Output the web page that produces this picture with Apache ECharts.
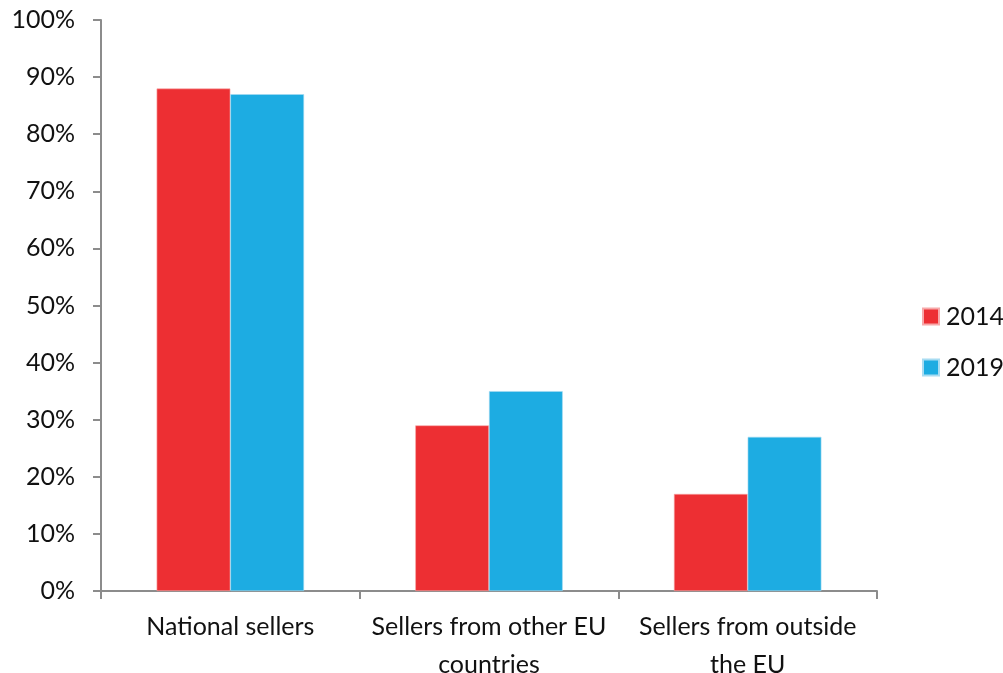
<!DOCTYPE html>
<html>
<head>
<meta charset="utf-8">
<script src="https://cdn.jsdelivr.net/npm/echarts@6/dist/echarts.min.js"></script>
<style>
  html, body { margin: 0; padding: 0; background: #ffffff; }
  #chart { width: 1003px; height: 673px; }
</style>
</head>
<body>
<div id="chart"></div>
<script>
// Share of online shoppers buying from each seller type
const categories = ['National sellers', 'Sellers from other EU\ncountries', 'Sellers from outside\nthe EU'];
const years = ['2014', '2019'];
const values2014 = [88, 29, 17];
const values2019 = [87, 35, 27];
const colors = ['#ED2F33', '#1DACE2'];

const fontFamily = 'Lato, "Open Sans", sans-serif';
const axisGray = '#8c8c8c';
const textColor = '#111111';

const chart = echarts.init(document.getElementById('chart'), null, { renderer: 'canvas' });

chart.setOption({
  animation: false,
  color: colors,
  textStyle: { fontFamily: fontFamily },
  grid: {
    left: 101, right: 126, top: 20, bottom: 82,
    containLabel: false,
    outerBoundsMode: 'none'
  },
  legend: {
    orient: 'vertical',
    left: 922,
    top: 304,
    padding: 0,
    itemWidth: 16,
    itemHeight: 16,
    itemGap: 26,
    icon: 'rect',
    data: years,
    textStyle: { fontSize: 25, lineHeight: 25, color: textColor, fontFamily: fontFamily, padding: [0, 0, 0, 2] }
  },
  xAxis: {
    type: 'category',
    data: categories,
    axisLine: { lineStyle: { color: axisGray, width: 2 } },
    axisTick: { show: true, length: 8, alignWithLabel: false, lineStyle: { color: axisGray, width: 2 } },
    axisLabel: {
      interval: 0,
      margin: 17,
      fontSize: 25,
      color: textColor,
      lineHeight: 38,
      fontFamily: fontFamily
    }
  },
  yAxis: {
    type: 'value',
    min: 0,
    max: 100,
    interval: 10,
    axisLine: { show: true, lineStyle: { color: axisGray, width: 2 } },
    axisTick: { show: true, length: 8, lineStyle: { color: axisGray, width: 2 } },
    splitLine: { show: false },
    axisLabel: {
      margin: 26,
      fontSize: 25,
      color: textColor,
      fontFamily: fontFamily,
      formatter: '{value}%'
    }
  },
  series: [
    {
      name: years[0],
      type: 'bar',
      data: values2014,
      barGap: '0%',
      barCategoryGap: '43%',
      itemStyle: { color: colors[0], borderColor: '#f7a9aa', borderWidth: 0.6 }
    },
    {
      name: years[1],
      type: 'bar',
      data: values2019,
      barGap: '0%',
      barCategoryGap: '43%',
      itemStyle: { color: colors[1], borderColor: '#a8dcf2', borderWidth: 0.6 }
    }
  ]
});
</script>
</body>
</html>
